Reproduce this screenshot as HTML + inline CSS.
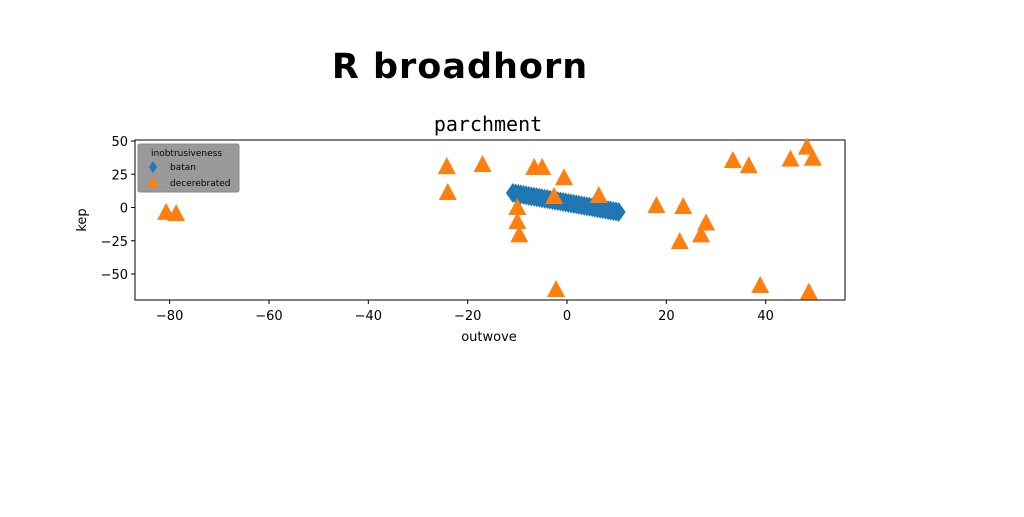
<!DOCTYPE html>
<html><head><meta charset="utf-8"><style>
body{margin:0;background:#fff;width:1024px;height:512px;overflow:hidden}
text{font-family:"DejaVu Sans","Liberation Sans",sans-serif}
</style></head><body>
<svg id="chart" width="1024" height="512" xmlns="http://www.w3.org/2000/svg">
<text x="460" y="78" font-size="35" font-weight="bold" text-anchor="middle" letter-spacing="1" style="font-family:'Comic Sans MS','DejaVu Sans',sans-serif">R broadhorn</text>
<text x="488" y="131" font-size="20" text-anchor="middle" style="font-family:'DejaVu Sans Mono','Liberation Mono',monospace">parchment</text>
<rect x="135" y="140" width="710" height="160" fill="none" stroke="#000" stroke-width="1"/>
<g id="ticks"></g>
<g id="marks"></g>
<text x="489" y="341" font-size="13" text-anchor="middle">outwove</text>
<text x="86" y="220" font-size="13" text-anchor="middle" transform="rotate(-90 86 220)">kep</text>
<g>
<rect x="138" y="144" width="101" height="48" fill="#999" stroke="#888" rx="2"/>
<text x="151" y="156" font-size="9">inobtrusiveness</text>
<polygon points="153,161 157,167 153,173 149,167" fill="#1f77b4"/>
<text x="170" y="170" font-size="9">batan</text>
<polygon points="153,177 159,187 147,187" fill="#ff7f0e"/>
<text x="170" y="186" font-size="9">decerebrated</text>
</g>
</svg>
<script>
const xTicks=[-80,-60,-40,-20,0,20,40];
const yTicks=[50,25,0,-25,-50];
const orangeX=[-80.7,-78.7,-24.2,-24,-17,-6.6,-5,-0.6,-2.6,-10,-10,-9.6,-2.2,6.4,18,23.4,22.7,27,28,33.4,36.6,45,48.3,49.5,38.9,48.7];
const orangeY=[-4,-5,30.4,10.9,32,29.7,29.7,22,7.9,-0.4,-11,-21,-62,8.6,1,0.4,-26,-21,-12,35,31,36,45,36.7,-59,-64];
const blueStartX=-10.9, blueEndX=10.4, blueStartY=10.9, blueEndY=-3.4;
const blueX=[], blueY=[];
for(let i=0;i<=40;i++){blueX.push(blueStartX+(blueEndX-blueStartX)*i/40);blueY.push(blueStartY+(blueEndY-blueStartY)*i/40);}
const sx=v=>567+v*4.967, sy=v=>207.5-v*1.33;
const NS="http://www.w3.org/2000/svg";
const t=document.getElementById('ticks'), m=document.getElementById('marks');
function mk(tag,attrs,parent){const e=document.createElementNS(NS,tag);for(const k in attrs)e.setAttribute(k,attrs[k]);parent.appendChild(e);return e;}
xTicks.forEach(v=>{
 const l=mk('line',{x1:sx(v),x2:sx(v),y1:300,y2:304,stroke:'#000'},t);
 
 
 const tx=mk('text',{x:sx(v),y:320,'font-size':13,'text-anchor':'middle'},t);
 tx.textContent=v<0?'\u2212'+Math.abs(v):v;
 
 
});
yTicks.forEach(v=>{
 const l=mk('line',{x1:131,x2:135,y1:sy(v),y2:sy(v),stroke:'#000'},t);
 
 
 const tx=mk('text',{x:128,y:sy(v)+5,'font-size':13,'text-anchor':'end'},t);
 tx.textContent=v<0?'\u2212'+Math.abs(v):v;
 
 
});
blueX.forEach((v,i)=>{
 const x=sx(v),y=sy(blueY[i]);
 const p=mk('polygon',{points:`${x},${y-10} ${x+7},${y} ${x},${y+10} ${x-7},${y}`,fill:'#1f77b4'},m);
 
 
});
orangeX.forEach((v,i)=>{
 const x=sx(v),y=sy(orangeY[i]);
 const p=mk('polygon',{points:`${x},${y-10} ${x+9},${y+7} ${x-9},${y+7}`,fill:'#ff7f0e'},m);
 
 
});
</script>
</body></html>
